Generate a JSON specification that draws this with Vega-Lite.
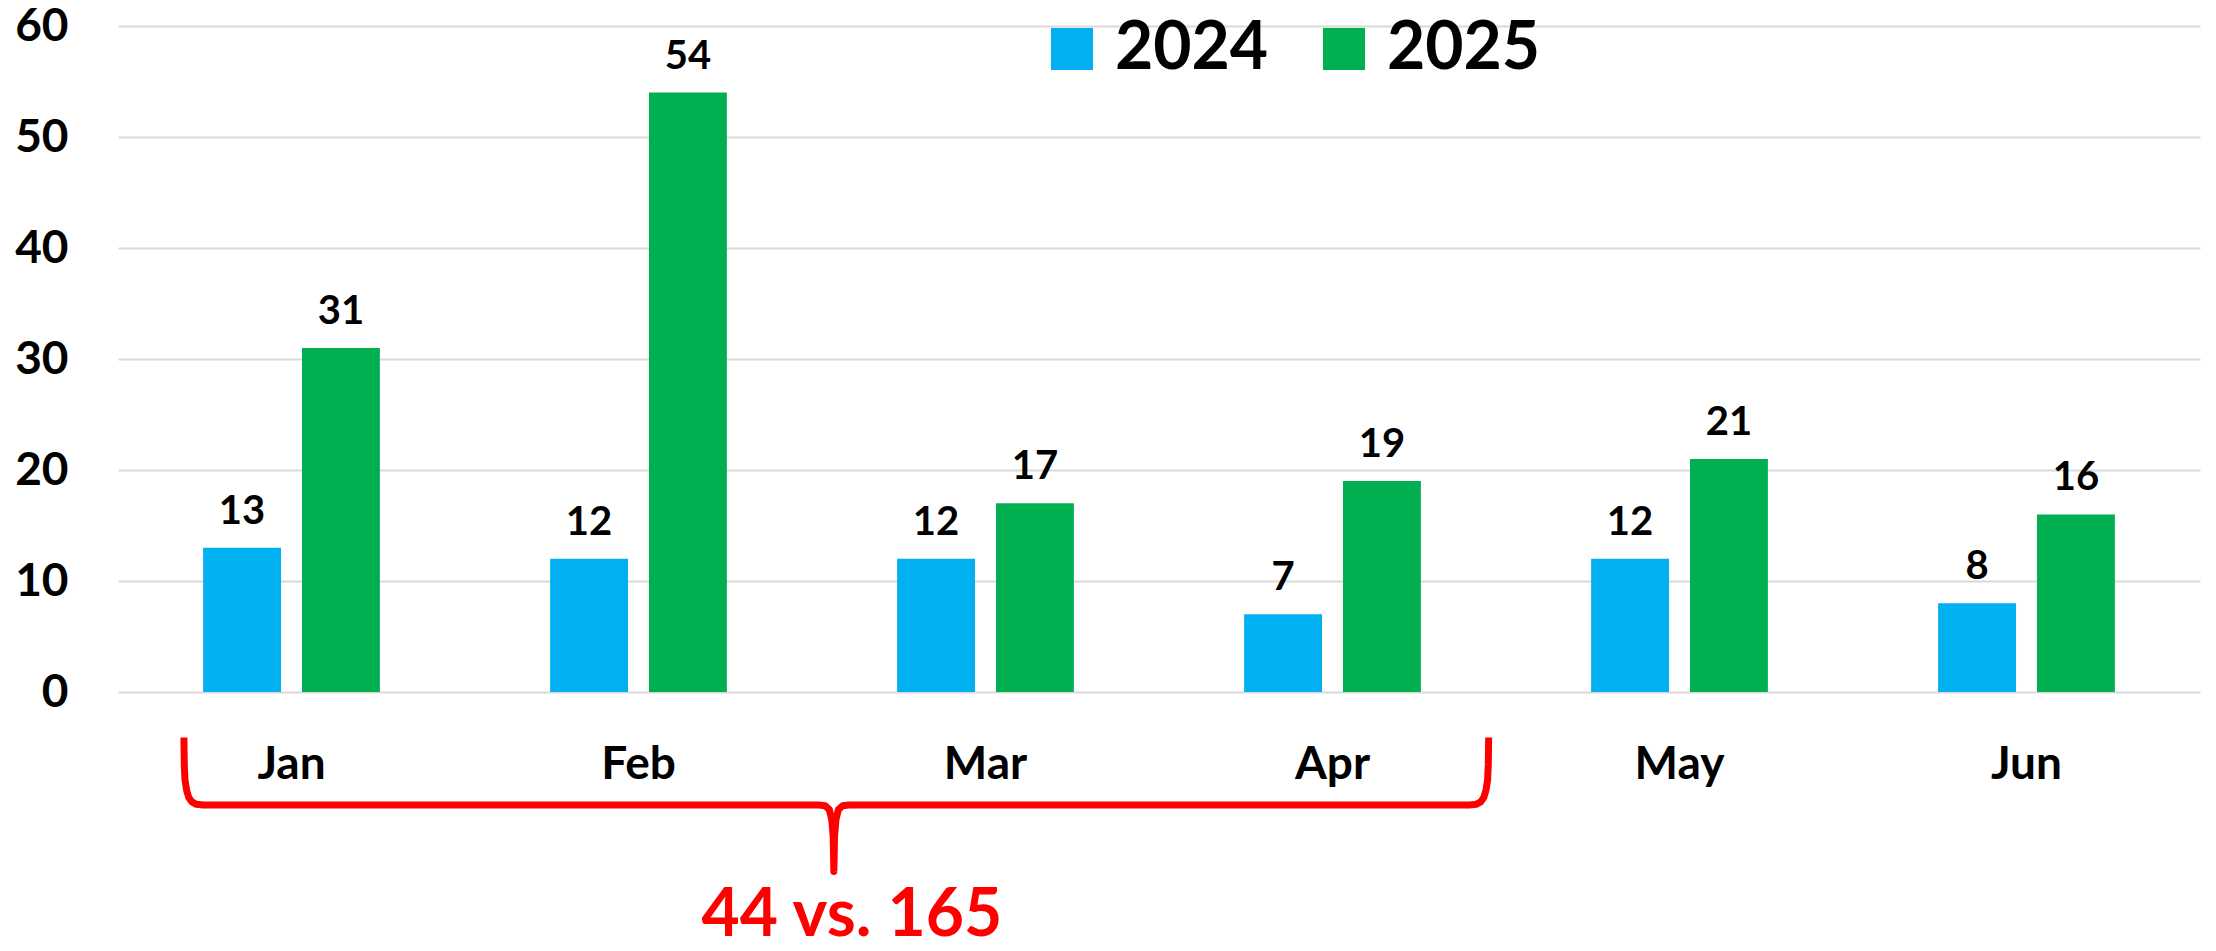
{
  "$schema": "https://vega.github.io/schema/vega-lite/v6.json",
  "width": 2082,
  "height": 666,
  "autosize": {"type": "none"},
  "padding": {"left": 118, "top": 26, "right": 16, "bottom": 259},
  "background": "white",
  "config": {
    "view": {"stroke": null},
    "font": "Lato",
    "axis": {"domain": false, "ticks": false, "labelFont": "Lato", "labelFontWeight": "bold", "labelColor": "#000000", "title": null},
    "axisX": {"labelFontSize": 46, "labelPadding": 50, "grid": false, "labelAngle": 0},
    "axisY": {"labelFontSize": 46, "labelPadding": 50, "gridColor": "#d9d9d9", "gridWidth": 2},
    "legend": {
      "orient": "none", "legendX": 921, "legendY": -10, "direction": "horizontal",
      "symbolType": "square", "symbolSize": 1764, "symbolStrokeWidth": 0,
      "labelFont": "Lato", "labelFontWeight": "bold", "labelFontSize": 66, "labelColor": "#000000",
      "labelOffset": 10, "columnPadding": 42, "title": null
    }
  },
  "resolve": {"scale": {"x": "independent"}, "axis": {"x": "independent"}},
  "layer": [
    {
      "data": {"name": "bars", "values": [
        {"month": "Jan", "year": "2024", "value": 13},
        {"month": "Jan", "year": "2025", "value": 31},
        {"month": "Feb", "year": "2024", "value": 12},
        {"month": "Feb", "year": "2025", "value": 54},
        {"month": "Mar", "year": "2024", "value": 12},
        {"month": "Mar", "year": "2025", "value": 17},
        {"month": "Apr", "year": "2024", "value": 7},
        {"month": "Apr", "year": "2025", "value": 19},
        {"month": "May", "year": "2024", "value": 12},
        {"month": "May", "year": "2025", "value": 21},
        {"month": "Jun", "year": "2024", "value": 8},
        {"month": "Jun", "year": "2025", "value": 16}
      ]},
      "encoding": {
        "x": {"field": "month", "type": "nominal", "sort": null, "scale": {"paddingInner": 0, "paddingOuter": 0}, "axis": {"title": null}},
        "xOffset": {"field": "year", "type": "nominal", "scale": {"paddingInner": 0.212, "paddingOuter": 0.861}},
        "y": {"field": "value", "type": "quantitative", "scale": {"domain": [0, 60], "nice": false}, "axis": {"values": [0, 10, 20, 30, 40, 50, 60], "title": null}}
      },
      "layer": [
        {
          "mark": {"type": "bar"},
          "encoding": {
            "color": {"field": "year", "type": "nominal", "scale": {"domain": ["2024", "2025"], "range": ["#00B0F0", "#00B050"]}, "legend": {"title": null}}
          }
        },
        {
          "mark": {"type": "text", "font": "Lato", "fontWeight": "bold", "fontSize": 40, "baseline": "alphabetic", "dy": -24, "color": "#000000"},
          "encoding": {
            "text": {"field": "value", "type": "quantitative"}
          }
        }
      ]
    },
    {
      "data": {"name": "brace", "values": [
        {"order": 0, "bx": 0.190, "by": -4.10},
        {"order": 1, "bx": 0.191, "by": -6.5},
        {"order": 2, "bx": 0.193, "by": -7.9},
        {"order": 3, "bx": 0.198, "by": -8.9},
        {"order": 4, "bx": 0.204, "by": -9.5},
        {"order": 5, "bx": 0.213, "by": -9.9},
        {"order": 6, "bx": 0.226, "by": -10.12},
        {"order": 7, "bx": 0.245, "by": -10.18},
        {"order": 8, "bx": 2.020, "by": -10.18},
        {"order": 9, "bx": 2.038, "by": -10.25},
        {"order": 10, "bx": 2.050, "by": -10.6},
        {"order": 11, "bx": 2.057, "by": -11.5},
        {"order": 12, "bx": 2.061, "by": -13.0},
        {"order": 13, "bx": 2.063, "by": -16.16},
        {"order": 14, "bx": 2.065, "by": -13.0},
        {"order": 15, "bx": 2.069, "by": -11.5},
        {"order": 16, "bx": 2.076, "by": -10.6},
        {"order": 17, "bx": 2.088, "by": -10.25},
        {"order": 18, "bx": 2.106, "by": -10.18},
        {"order": 19, "bx": 3.895, "by": -10.18},
        {"order": 20, "bx": 3.914, "by": -10.12},
        {"order": 21, "bx": 3.927, "by": -9.9},
        {"order": 22, "bx": 3.936, "by": -9.5},
        {"order": 23, "bx": 3.942, "by": -8.9},
        {"order": 24, "bx": 3.947, "by": -7.9},
        {"order": 25, "bx": 3.949, "by": -6.5},
        {"order": 26, "bx": 3.950, "by": -4.10}
      ]},
      "mark": {"type": "line", "color": "#FF0000", "strokeWidth": 7, "strokeJoin": "round", "strokeCap": "butt", "clip": false},
      "encoding": {
        "x": {"field": "bx", "type": "quantitative", "scale": {"domain": [0, 6], "nice": false, "zero": false}, "axis": null},
        "y": {"field": "by", "type": "quantitative", "scale": {"domain": [0, 60], "nice": false}, "axis": {"values": [0, 10, 20, 30, 40, 50, 60], "title": null}},
        "order": {"field": "order", "type": "quantitative"}
      }
    },
    {
      "data": {"name": "note", "values": [
        {"bx": 2.115, "by": -22.0, "label": "44 vs. 165"}
      ]},
      "mark": {"type": "text", "font": "Lato", "fontWeight": "bold", "fontSize": 66, "color": "#FF0000", "baseline": "alphabetic", "align": "center", "clip": false},
      "encoding": {
        "x": {"field": "bx", "type": "quantitative", "scale": {"domain": [0, 6], "nice": false, "zero": false}, "axis": null},
        "y": {"field": "by", "type": "quantitative", "scale": {"domain": [0, 60], "nice": false}, "axis": {"values": [0, 10, 20, 30, 40, 50, 60], "title": null}},
        "text": {"field": "label", "type": "nominal"}
      }
    }
  ]
}
